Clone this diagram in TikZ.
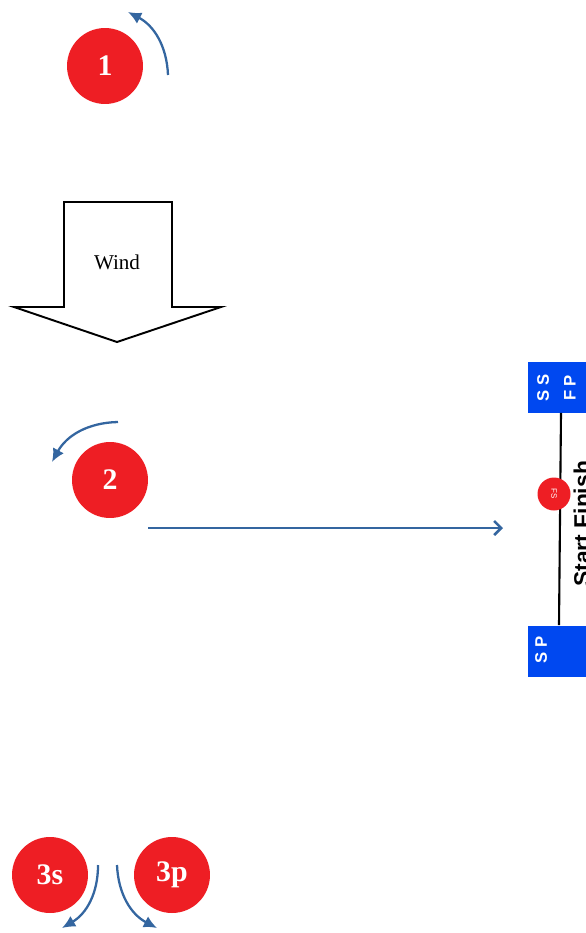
\documentclass[tikz,border=0pt]{standalone}
\usepackage{fontspec}
\setmainfont{Liberation Serif}
\setsansfont{Liberation Sans}
\usetikzlibrary{arrows.meta}
\definecolor{markred}{RGB}{238,30,36}
\definecolor{turnblue}{RGB}{52,102,160}
\definecolor{boxblue}{RGB}{0,72,240}

\begin{document}
\begin{tikzpicture}[x=0.02cm,y=-0.02cm]
\useasboundingbox (0,0) rectangle (585,933);

% numbered marks
\begin{scope}[every node/.style={circle,fill=markred,text=white,inner sep=0pt,
              minimum size=1.52cm,font=\bfseries\fontsize{17}{17}\selectfont}]
    \node (m1) at (105,66) {1};
    \node (m2) at (110,480) {2};
    \node (m3s) at (50,875) {3s};
    \node (m3p) at (172,875) {3p};
\end{scope}

% wind arrow
\draw[line width=1.1pt] (64,202) -- (172,202) -- (172,307) -- (221,307)
    -- (117,342) -- (14,307) -- (64,307) -- cycle;
\node[font=\fontsize{12}{12}\selectfont] (wind) at (117,262) {Wind};

% start / finish line
\begin{scope}[every node/.style={fill=boxblue,inner sep=0pt,
              minimum width=1.44cm,minimum height=1.02cm}]
    \node (ssfp) at (564,387) {};
    \node (sp) at (564,651) {};
\end{scope}
\begin{scope}[every node/.style={text=white,rotate=90,inner sep=0pt,
              font=\sffamily\bfseries\fontsize{9.5}{9.5}\selectfont}]
    \node (ss) at (543,388) {S S};
    \node (fp) at (570,388) {F P};
    \node (spt) at (541,650) {S P};
\end{scope}
\draw[line width=1.2pt] ([xshift=-0.06cm]ssfp.south) -- ([xshift=-0.1cm]sp.north);
\node[circle,fill=markred,text=white,inner sep=0pt,minimum size=0.66cm,
      rotate=-90,font=\sffamily\fontsize{4.5}{4.5}\selectfont] (fs) at (554,494) {FS};
\node[rotate=90,anchor=base west,inner sep=0pt,
      font=\sffamily\bfseries\fontsize{13}{13}\selectfont] (sfline) at (590,587) {Start Finish};

% turns
\coordinate (t1a) at (168,75);
\coordinate (t1b) at (128,12);
\coordinate (t2a) at (118,422);
\coordinate (t2b) at (52,462);
\coordinate (t3sa) at (98,865);
\coordinate (t3sb) at (62,928);
\coordinate (t3pa) at (117,865);
\coordinate (t3pb) at (157,928);
\coordinate (lega) at (148,528);
\coordinate (legb) at (503,528);

\begin{scope}[>={Latex[length=7.5pt,width=7pt]},
              every edge/.style={draw=turnblue,line width=1.3pt}]
    \path [->] (t1a) edge[bend right=30] (t1b);
    \path [->] (t2a) edge[bend right=30] (t2b);
    \path [->] (t3sa) edge[bend left=30] (t3sb);
    \path [->] (t3pa) edge[bend right=30] (t3pb);
\end{scope}
\draw[turnblue,line width=1.5pt,-{Straight Barb[length=4pt,width=8pt]}] (lega) -- (legb);
\end{tikzpicture}
\end{document}
